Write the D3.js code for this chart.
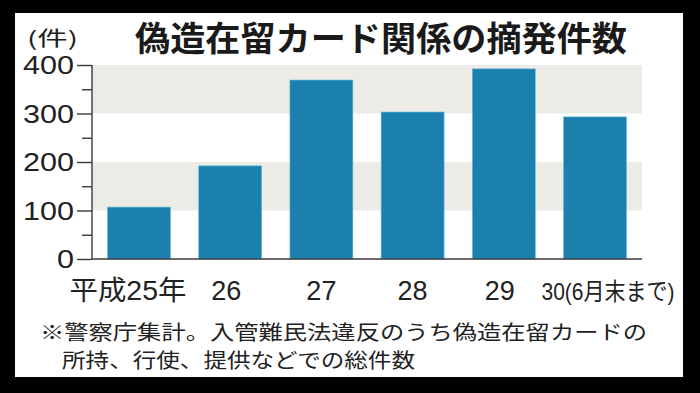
<!DOCTYPE html>
<meta charset="utf-8">
<script src="https://d3js.org/d3.v7.min.js"></script>
<style>
  body { margin: 0; background: #000; }
  svg { display: block; }
</style>
<body>
<svg width="700" height="393"></svg>
<script>
// data
var years = ["平成25年", "26", "27", "28", "29", "30(6月末まで)"];
var counts = [107, 192, 369, 303, 392, 293];
var yTicks = [0, 100, 200, 300, 400];
var minorTicks = [50, 150, 250, 350];
var bands = [[100, 200], [300, 400]];
var title = "偽造在留カード関係の摘発件数";
var unit = "(件)";
var notes = ["※警察庁集計。入管難民法違反のうち偽造在留カードの", "所持、行使、提供などでの総件数"];

var svg = d3.select("svg");
// note: "top" is window.top in a browser, so use other names
var plotLeft = 92, plotRight = 642, plotTop = 65, plotBottom = 259;
var jp = "'Noto Sans CJK JP', sans-serif";
var num = "'Liberation Sans', 'Noto Sans CJK JP', sans-serif";

// white panel inside the black frame
svg.append("rect").attr("x", 15).attr("y", 13).attr("width", 668).attr("height", 364).attr("fill", "#fff");

var x = d3.scaleBand().domain(years).range([plotLeft, plotRight]).paddingInner(0.31).paddingOuter(0.17);
var y = d3.scaleLinear().domain([0, 400]).range([plotBottom, plotTop]);

// grey stripes
svg.selectAll("rect.band").data(bands).enter().append("rect")
  .attr("class", "band")
  .attr("x", plotLeft)
  .attr("y", function (d) { return y(d[1]) })
  .attr("width", plotRight - plotLeft)
  .attr("height", function (d) { return y(d[0]) - y(d[1]) })
  .attr("fill", "#ecebe6");

// bars
svg.selectAll("rect.bar").data(counts).enter().append("rect")
  .attr("class", "bar")
  .attr("x", function (d, i) { return x(years[i]) })
  .attr("y", function (d) { return y(d) })
  .attr("width", x.bandwidth())
  .attr("height", function (d) { return y(0) - y(d) })
  .attr("fill", "#1b80ad")
  .attr("stroke", "#62b9dc")
  .attr("stroke-width", 0.6);

// y axis with major + minor ticks
var yAxis = svg.append("g").attr("transform", "translate(" + plotLeft + ",0)")
  .call(d3.axisLeft(y).tickValues(yTicks).tickSize(15).tickFormat(""));
svg.append("g").attr("transform", "translate(" + plotLeft + ",0)")
  .call(d3.axisLeft(y).tickValues(minorTicks).tickSize(10).tickFormat(""))
  .select(".domain").remove();
svg.selectAll(".tick line").attr("stroke", "#3a3a3a").attr("stroke-width", 1.4);
yAxis.select(".domain").attr("stroke", "#3a3a3a").attr("stroke-width", 1.4).attr("d", "M0," + plotTop + "V" + plotBottom);

svg.selectAll("text.ylab").data(yTicks).enter().append("text")
  .attr("class", "ylab")
  .attr("x", 74)
  .attr("y", function (d) { return y(d) + 9 })
  .attr("text-anchor", "end")
  .attr("font-family", num)
  .attr("font-size", 26)
  .attr("fill", "#222")
  .attr("textLength", function (d) { return String(d).length * 17 })
  .attr("lengthAdjust", "spacingAndGlyphs")
  .text(function (d) { return d });

// baseline
svg.append("line").attr("x1", plotLeft).attr("x2", plotRight).attr("y1", y(0)).attr("y2", y(0))
  .attr("stroke", "#3a3a3a").attr("stroke-width", 1.6);

// x labels
var xShift = [-11, -4, 0, 0, -4, 13];
svg.selectAll("text.xlab").data(years).enter().append("text")
  .attr("class", "xlab")
  .attr("x", function (d, i) { return x(d) + x.bandwidth() / 2 + xShift[i] })
  .attr("y", 300)
  .attr("text-anchor", "middle")
  .attr("font-family", num)
  .attr("font-size", function (d, i) { return i == 5 ? 24 : 27 })
  .attr("fill", "#222")
  .attr("textLength", function (d, i) { return i == 0 ? 117 : i == 5 ? 133 : null })
  .attr("lengthAdjust", "spacingAndGlyphs")
  .text(function (d) { return d });

// unit label and title
svg.append("text").attr("x", 27).attr("y", 46)
  .attr("font-family", jp).attr("font-size", 20).attr("fill", "#222")
  .attr("textLength", 51).attr("lengthAdjust", "spacingAndGlyphs")
  .text(unit);
svg.append("text").attr("x", 135).attr("y", 51)
  .attr("font-family", jp).attr("font-weight", 700).attr("font-size", 34).attr("fill", "#1a1a1a")
  .attr("textLength", 492).attr("lengthAdjust", "spacingAndGlyphs")
  .text(title);

// footnote
svg.selectAll("text.note").data(notes).enter().append("text")
  .attr("class", "note")
  .attr("x", function (d, i) { return i == 0 ? 40 : 62 })
  .attr("y", function (d, i) { return 340 + i * 28 })
  .attr("font-family", jp)
  .attr("font-size", 20)
  .attr("fill", "#222")
  .attr("textLength", function (d, i) { return i == 0 ? 607 : 353 })
  .attr("lengthAdjust", "spacingAndGlyphs")
  .text(function (d) { return d });
</script>
</body>
